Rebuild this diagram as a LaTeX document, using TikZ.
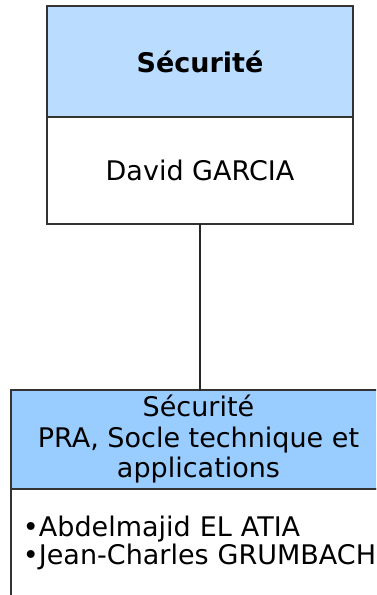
\documentclass[tikz,border=0pt]{standalone}
\usepackage{fontspec}
\setmainfont{DejaVu Sans}
\usetikzlibrary{positioning}
\definecolor{headtop}{RGB}{185,220,255}
\definecolor{headsub}{RGB}{153,204,255}

\begin{document}
\begin{tikzpicture}[
  x=1pt, y=-1pt, font=\fontsize{27}{30.5}\selectfont,
  hd/.style={draw=black!80, line width=1.2pt, outer sep=0pt, inner sep=0pt, align=center, anchor=north west},
  bx/.style={hd, fill=white},
  conn/.style={draw=black!85, line width=1.8pt}
]
\useasboundingbox (0,0) rectangle (376,595);
\clip (0,0) rectangle (376,595);
% top unit
\node[hd, fill=headtop, minimum width=306, minimum height=111] (secu) at (47,6) {\textbf{Sécurité}};
\node[bx, minimum width=306, minimum height=107, below=0pt of secu] (garcia) {David GARCIA};
% sub unit
\node[hd, fill=headsub, minimum width=375, minimum height=99] (prasec) at (11,390) {Sécurité\\PRA, Socle technique et\\applications};
\node[bx, minimum height=108, text width=400, inner xsep=12pt, align=left, below=0pt of prasec.south west, anchor=north west,
  font=\fontsize{27}{25}\selectfont] (membres) {•Abdelmajid EL ATIA\\•Jean-Charles GRUMBACH};
\draw[conn] (garcia.south) -- (prasec.north -| garcia.south);
\end{tikzpicture}
\end{document}
